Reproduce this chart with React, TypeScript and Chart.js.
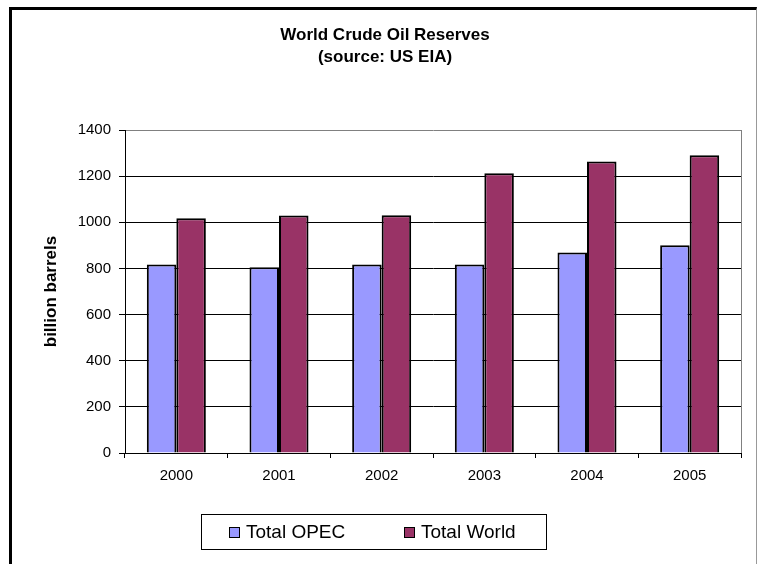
import React, { useEffect, useRef } from 'react';
import { Chart, registerables } from 'chart.js';

Chart.register(...registerables);

const years = ['2000', '2001', '2002', '2003', '2004', '2005'];
const totalOpec = [817, 805, 817, 817, 869, 900];
const totalWorld = [1017, 1029, 1030, 1212, 1264, 1291];
const seriesNames = ['Total OPEC', 'Total World'];
const seriesColors = ['#9999FF', '#993366'];
const titleLines = ['World Crude Oil Reserves', '(source: US EIA)'];
const yAxisTitle = 'billion barrels';
const yMin = 0;
const yMax = 1400;
const yStep = 200;

const FONT = "'Liberation Sans', Arial, sans-serif";

const decorPlugin = {
  id: 'decor',
  afterDraw(chart: any) {
    const { ctx, chartArea } = chart;
    ctx.save();
    // plot area right border (grey)
    ctx.strokeStyle = '#808080';
    ctx.lineWidth = 1;
    ctx.beginPath();
    const rx = Math.round(chartArea.right) + 0.5;
    ctx.moveTo(rx, Math.round(chartArea.top));
    ctx.lineTo(rx, Math.round(chartArea.bottom));
    ctx.stroke();

    // title
    ctx.fillStyle = '#000';
    ctx.textAlign = 'center';
    ctx.textBaseline = 'middle';
    ctx.font = `bold 17px ${FONT}`;
    const tx = 385;
    titleLines.forEach((line, i) => {
      ctx.fillText(line, tx, 35 + i * 22);
    });

    // legend
    const boxL = 201, boxT = 514, boxR = 546, boxB = 549;
    ctx.strokeStyle = '#000';
    ctx.lineWidth = 1;
    ctx.strokeRect(boxL + 0.5, boxT + 0.5, boxR - boxL, boxB - boxT);
    const items = chart.data.datasets;
    const startX = [229, 404];
    const midY = (boxT + boxB) / 2;
    ctx.font = `19px ${FONT}`;
    ctx.textAlign = 'left';
    items.forEach((ds: any, i: number) => {
      const sx = startX[i];
      ctx.fillStyle = ds.backgroundColor;
      ctx.fillRect(sx + 0.5, Math.round(midY - 5) + 0.5, 10, 10);
      ctx.strokeStyle = '#000';
      ctx.strokeRect(sx + 0.5, Math.round(midY - 5) + 0.5, 10, 10);
      ctx.fillStyle = '#000';
      ctx.fillText(ds.label, sx + 17, midY + 1);
    });
    ctx.restore();
  },
};

export default function App() {
  const canvasRef = useRef<HTMLCanvasElement | null>(null);

  useEffect(() => {
    if (!canvasRef.current) return;
    const chart = new Chart(canvasRef.current, {
      type: 'bar',
      data: {
        labels: years,
        datasets: [
          {
            label: seriesNames[0],
            data: totalOpec,
            backgroundColor: seriesColors[0],
            borderColor: '#000',
            borderWidth: 2,
            categoryPercentage: 0.575,
            barPercentage: 1,
          },
          {
            label: seriesNames[1],
            data: totalWorld,
            backgroundColor: seriesColors[1],
            borderColor: '#000',
            borderWidth: 2,
            categoryPercentage: 0.575,
            barPercentage: 1,
          },
        ],
      },
      options: {
        responsive: false,
        animation: false,
        devicePixelRatio: 1,
        layout: { padding: { left: 0, top: 130, right: 18, bottom: 71 } },
        plugins: {
          legend: { display: false },
          title: { display: false },
          tooltip: { enabled: false },
        },
        scales: {
          x: {
            type: 'category',
            offset: true,
            grid: {
              offset: true,
              drawOnChartArea: false,
              drawTicks: true,
              tickLength: 5,
              color: '#000',
              tickColor: '#000',
            },
            border: { color: '#000', width: 1 },
            ticks: { color: '#000', font: { family: FONT, size: 15 }, padding: 9, maxRotation: 0 },
            afterFit: (s: any) => {
              s.height = 40;
            },
          },
          y: {
            min: yMin,
            max: yMax,
            ticks: {
              stepSize: yStep,
              color: '#000',
              font: { family: FONT, size: 15 },
              padding: 8,
              callback: (v: any) => String(v),
            },
            grid: {
              color: (c: any) => (c.tick && c.tick.value === yMax ? '#808080' : '#000'),
              tickColor: '#000',
              tickLength: 6,
              lineWidth: 1,
            },
            border: { color: '#000', width: 1 },
            title: {
              display: true,
              text: yAxisTitle,
              color: '#000',
              font: { family: FONT, size: 17, weight: 'bold' },
              padding: { top: 41, bottom: 0 },
            },
            afterFit: (s: any) => {
              s.width = 125;
            },
          },
        },
      },
      plugins: [decorPlugin],
    });
    return () => chart.destroy();
  }, []);

  return (
    <div
      style={{
        position: 'absolute',
        left: 0,
        top: 0,
        width: 759,
        height: 564,
        overflow: 'hidden',
        background: '#fff',
      }}
    >
      <canvas ref={canvasRef} width={759} height={564} style={{ position: 'absolute', left: 0, top: 0, width: 759, height: 564 }} />
      <div
        style={{
          position: 'absolute',
          left: 9,
          top: 7,
          width: 748,
          height: 620,
          boxSizing: 'border-box',
          borderTop: '3px solid #000',
          borderLeft: '3px solid #000',
          borderRight: '1px solid #999',
          pointerEvents: 'none',
        }}
      />
    </div>
  );
}
